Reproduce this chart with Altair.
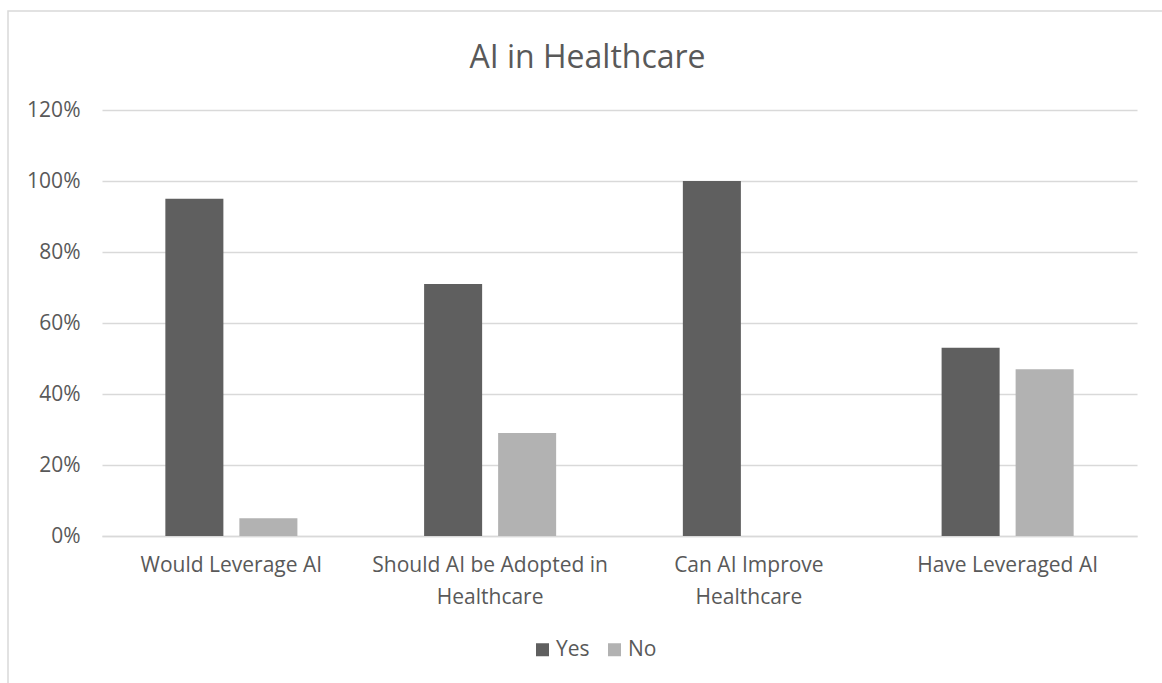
import altair as alt
import pandas as pd

categories = ["Would Leverage AI", "Should AI be Adopted in Healthcare",
              "Can AI Improve Healthcare", "Have Leveraged AI"]
label_lines = [["Would Leverage AI"], ["Should AI be Adopted in", "Healthcare"],
               ["Can AI Improve", "Healthcare"], ["Have Leveraged AI"]]
yes_values = [0.95, 0.71, 1.00, 0.53]
no_values = [0.05, 0.29, 0.00, 0.47]
series = ["Yes", "No"]
colors = ["#5f5f5f", "#b2b2b2"]
y_ticks = [0, 0.2, 0.4, 0.6, 0.8, 1.0, 1.2]

rows = []
for c, y, n in zip(categories, yes_values, no_values):
    rows.append({"Category": c, "Response": "Yes", "Value": y})
    rows.append({"Category": c, "Response": "No", "Value": n})
df = pd.DataFrame(rows)

# label expression for multi-line category labels
expr = "datum.value"
for c, lines in reversed(list(zip(categories, label_lines))):
    arr = "[" + ",".join("'" + l + "'" for l in lines) + "]"
    expr = f"datum.value == '{c}' ? {arr} : ({expr})"

FONT = "Open Sans"
TXT = "#595959"

bars = alt.Chart(df).mark_bar().encode(
    x=alt.X("Category:N", sort=categories,
            scale=alt.Scale(paddingInner=0, paddingOuter=0),
            axis=alt.Axis(title=None, labelAngle=0, ticks=False, domain=True,
                          domainColor="#d9d9d9", domainWidth=1.5,
                          labelExpr=expr, labelPadding=18, labelFontSize=21,
                          labelColor=TXT, labelFont=FONT, labelLineHeight=32,
                          labelLimit=400)),
    xOffset=alt.XOffset("Response:N", sort=series,
                        scale=alt.Scale(paddingInner=0.216, paddingOuter=0.856)),
    y=alt.Y("Value:Q", scale=alt.Scale(domain=[0, 1.2], nice=False),
            axis=alt.Axis(title=None, format=".0%", values=y_ticks, domain=False,
                          ticks=False, gridColor="#d9d9d9", gridWidth=1.5,
                          labelPadding=22, labelFontSize=21, labelColor=TXT,
                          labelFont=FONT)),
    color=alt.Color("Response:N", sort=series,
                    scale=alt.Scale(domain=series, range=colors),
                    legend=alt.Legend(title=None, orient="none", direction="horizontal",
                                      legendX=430, legendY=529, symbolType="square",
                                      symbolSize=169, symbolStrokeWidth=0,
                                      labelFontSize=21, labelColor=TXT, labelFont=FONT,
                                      columnPadding=14, labelOffset=3)),
)

frame_df = pd.DataFrame({"f": [0]})
frame = alt.Chart(frame_df).mark_rect(fill="transparent", stroke="#d9d9d9",
                                      strokeWidth=1.5, clip=False).encode(
    x=alt.value(-94), x2=alt.value(1064), y=alt.value(-99), y2=alt.value(700))

chart = alt.layer(frame, bars).properties(
    width=1035, height=426,
    title=alt.TitleParams("AI in Healthcare", fontSize=32, color=TXT, font=FONT,
                          fontWeight="normal", anchor="middle", offset=-65, dx=-32),
    autosize=alt.AutoSizeParams(type="none"),
    padding={"left": 102, "top": 110, "right": 25, "bottom": 147},
).configure(background="white").configure_view(stroke=None)

chart.save("out.html", embed_options={"renderer": "svg", "actions": False})
